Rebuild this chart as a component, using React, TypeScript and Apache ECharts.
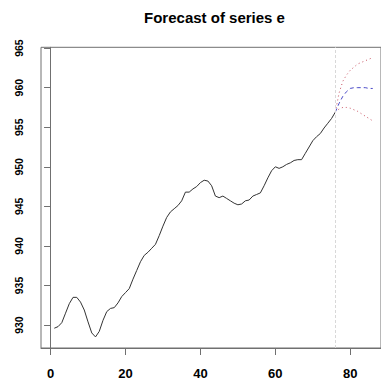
import React, { useEffect, useRef } from "react";
import * as echarts from "echarts";

const title = "Forecast of series e";
const observed = [
  929.6, 929.8, 930.3, 931.5, 932.7, 933.5, 933.5, 932.9, 931.9, 930.4,
  929.0, 928.5, 929.2, 930.6, 931.7, 932.1, 932.2, 932.8, 933.6, 934.1,
  934.6, 935.8, 936.9, 938.0, 938.8, 939.2, 939.7, 940.2, 941.3, 942.5,
  943.6, 944.3, 944.7, 945.1, 945.7, 946.8, 946.8, 947.2, 947.5, 948.0,
  948.3, 948.2, 947.6, 946.3, 946.1, 946.3, 946.0, 945.7, 945.4, 945.2,
  945.3, 945.7, 945.8, 946.3, 946.5, 946.7, 947.6, 948.6, 949.5, 950.0,
  949.8, 950.0, 950.3, 950.5, 950.8, 950.9, 950.9, 951.7, 952.5, 953.3,
  953.8, 954.2, 954.9, 955.5, 956.1, 956.9,
];
const forecastX = [76, 77, 78, 79, 80, 81, 82, 83, 84, 85, 86];
const forecastMean = [956.9, 958.0, 958.9, 959.5, 959.9, 960.0, 960.0, 960.0, 960.0, 959.9, 959.9];
const forecastUpper = [956.9, 959.3, 960.8, 961.6, 962.2, 962.6, 963.0, 963.2, 963.4, 963.6, 963.8];
const forecastLower = [956.9, 957.3, 957.5, 957.5, 957.4, 957.2, 957.0, 956.7, 956.4, 956.1, 955.8];
const xTicks = [0, 20, 40, 60, 80];
const yTicks = [930, 935, 940, 945, 950, 955, 960, 965];
const forecastOrigin = 76;

export default function App() {
  const ref = useRef<HTMLDivElement>(null);
  useEffect(() => {
    if (!ref.current) return;
    const chart = echarts.init(ref.current, undefined, { renderer: "svg" });
    const obsData = observed.map((v, i) => [i + 1, v]);
    const pair = (arr: number[]) => arr.map((v, i) => [forecastX[i], v]);
    const axisColor = "#707070";
    const font = "'Liberation Sans', Arial, sans-serif";
    chart.setOption({
      animation: false,
      backgroundColor: "#ffffff",
      graphic: [
        {
          type: "text",
          x: 214.5,
          y: 17,
          style: {
            text: title,
            fontFamily: font,
            fontWeight: "bold",
            fontSize: 15,
            fill: "#000",
            textAlign: "center",
            textVerticalAlign: "middle",
          },
        },
      ],
      grid: {
        left: 41,
        top: 47.3,
        width: 345,
        height: 301.7,
        show: true,
        borderColor: axisColor,
        borderWidth: 1,
        backgroundColor: "transparent",
      },
      xAxis: {
        type: "value",
        min: -2.55,
        max: 88.2,
        splitLine: { show: false },
        axisLine: { show: true, lineStyle: { color: axisColor } },
        axisTick: {
          show: true,
          length: 7,
          customValues: xTicks,
          lineStyle: { color: axisColor },
        },
        axisLabel: {
          customValues: xTicks,
          margin: 19,
          color: "#000",
          fontFamily: font,
          fontWeight: "bold",
          fontSize: 13,
        },
      },
      yAxis: {
        type: "value",
        min: 927.1,
        max: 965.1,
        splitLine: { show: false },
        axisLine: { show: true, lineStyle: { color: axisColor } },
        axisTick: {
          show: true,
          length: 6.5,
          customValues: yTicks,
          lineStyle: { color: axisColor },
        },
        axisLabel: {
          customValues: yTicks,
          rotate: 90,
          margin: 17,
          color: "#000",
          fontFamily: font,
          fontWeight: "bold",
          fontSize: 10.5,
        },
      },
      series: [
        {
          type: "line",
          data: obsData,
          showSymbol: false,
          lineStyle: { color: "#333", width: 1 },
          markLine: {
            silent: true,
            symbol: "none",
            label: { show: false },
            lineStyle: { color: "#d8d8d8", type: [3, 2], width: 1 },
            data: [{ xAxis: forecastOrigin }],
          },
        },
        {
          type: "line",
          data: pair(forecastUpper),
          showSymbol: false,
          lineStyle: { color: "#c85060", width: 1, type: [1, 3] },
        },
        {
          type: "line",
          data: pair(forecastLower),
          showSymbol: false,
          lineStyle: { color: "#c85060", width: 1, type: [1, 3] },
        },
        {
          type: "line",
          data: pair(forecastMean),
          showSymbol: false,
          lineStyle: { color: "#4a4ac8", width: 1, type: [4, 3] },
        },
      ],
    });
    return () => chart.dispose();
  }, []);
  return (
    <div
      ref={ref}
      style={{ position: "absolute", left: 0, top: 0, width: 381, height: 380 }}
    />
  );
}
